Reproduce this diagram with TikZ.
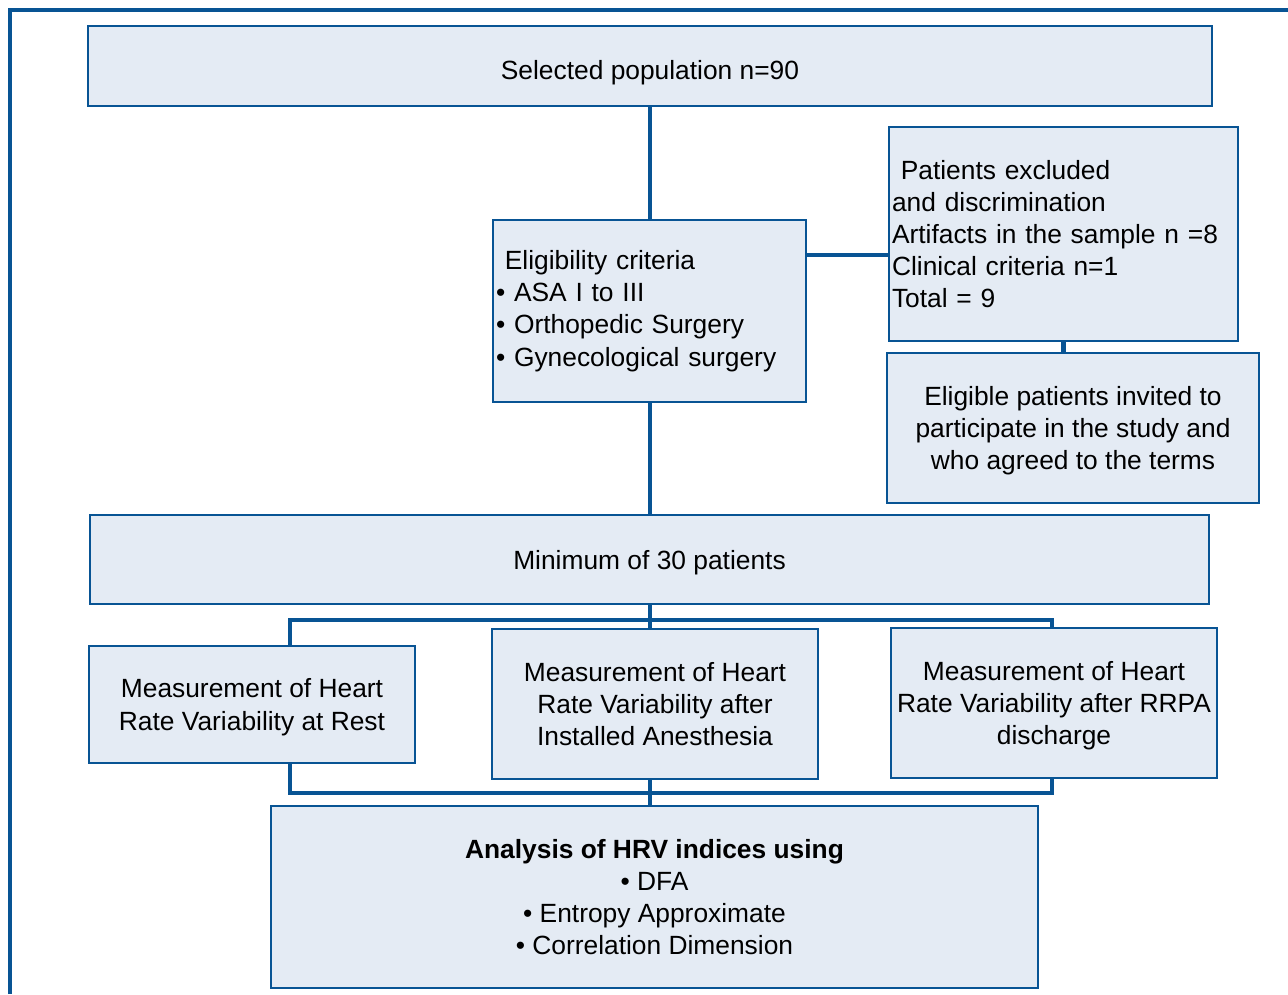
\documentclass[tikz,border=0pt]{standalone}
\usepackage{fontspec}
\setmainfont{Liberation Sans}
\definecolor{hrvblue}{RGB}{8,84,148}
\definecolor{hrvfill}{RGB}{228,235,244}

\begin{document}
\begin{tikzpicture}[x=0.02cm, y=-0.02cm,
                    box/.style = {draw=hrvblue, fill=hrvfill, line width=1.5pt,
                    shape=rectangle, align=center, inner xsep=0.06cm,
                    font=\fontsize{15}{18.3}\selectfont},
                    mid/.style = {box, text depth=0pt},
                    link/.style = {draw=hrvblue, line width=2.3pt},
                    bus/.style = {draw=hrvblue, line width=2.8pt}]
  \useasboundingbox (0,0) rectangle (1288,994);
  \draw[hrvblue, line width=2.3pt] (10,994) -- (10,10) -- (1288,10);

  \node[mid, minimum width=22.48cm, minimum height=1.6cm, text height=15.5pt] (top) at (650,66)
    {Selected population n=90};
  \node[box, minimum width=6.26cm, minimum height=3.64cm, text width=6.14cm,
        align=left] (elig) at (649.5,311)
    {~Eligibility criteria\\ • ASA I to III\\ • Orthopedic Surgery\\ • Gynecological surgery};
  \node[box, minimum width=6.98cm, minimum height=4.28cm, text width=6.86cm,
        align=left] (excl) at (1063.5,234)
    {~Patients excluded\\ and discrimination\\ Artifacts in the sample n =8\\ Clinical criteria n=1\\ Total = 9};
  \node[mid, minimum width=7.44cm, minimum height=3cm] (invit) at (1073,428)
    {Eligible patients invited to\\ participate in the study and\\ who agreed to the terms};
  \node[mid, minimum width=22.38cm, minimum height=1.78cm] (minim) at (649.5,559.5)
    {Minimum of 30 patients};
  \node[mid, minimum width=6.52cm, minimum height=2.34cm] (rest) at (252,704.5)
    {Measurement of Heart\\ Rate Variability at Rest};
  \node[mid, minimum width=6.52cm, minimum height=3cm] (anes) at (655,704)
    {Measurement of Heart\\ Rate Variability after\\ Installed Anesthesia};
  \node[mid, minimum width=6.52cm, minimum height=3cm, inner xsep=0.02cm] (rrpa) at (1054,703)
    {Measurement of Heart\\ Rate Variability after RRPA\\ discharge};
  \node[mid, minimum width=15.34cm, minimum height=3.64cm] (anal) at (654.5,897)
    {\textbf{Analysis of HRV indices using}\\ • DFA\\ • Entropy Approximate\\ • Correlation Dimension};

  % connectors
  \coordinate (spine) at (650,0);
  \coordinate (exclLink) at (850,255);
  \coordinate (busA) at (290,620);
  \coordinate (busB) at (1052,620);
  \coordinate (busC) at (290,793);
  \coordinate (busD) at (1052,793);
  \draw[link] (spine |- top.south) -- (spine |- elig.north);
  \draw[link] (spine |- elig.south) -- (spine |- minim.north);
  \draw[link] (exclLink -| elig.east) -- (exclLink -| excl.west);
  \draw[link] (excl.south) -- (excl.south |- invit.north);
  \draw[link] (spine |- minim.south) -- (spine |- anes.north);
  \draw[bus] (busA |- rest.north) -- (busA) -- (busB) -- (busB |- rrpa.north);
  \draw[bus] (busC |- rest.south) -- (busC) -- (busD) -- (busD |- rrpa.south);
  \draw[link] (spine |- anes.south) -- (spine |- anal.north);
\end{tikzpicture}
\end{document}
